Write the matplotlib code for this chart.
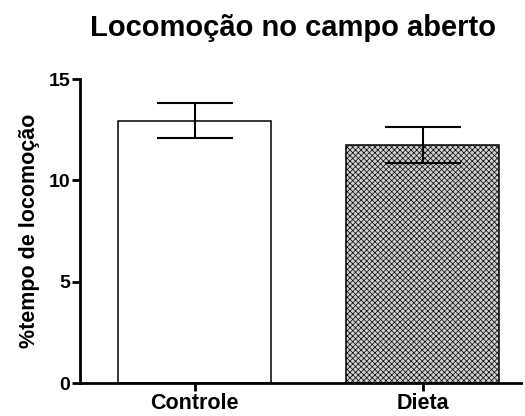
import matplotlib
matplotlib.use("Agg")
import matplotlib.pyplot as plt

categories = ["Controle", "Dieta"]
means = [12.95, 11.74]
errors = [0.85, 0.87]
yticks = [0, 5, 10, 15]

plt.rcParams['font.family'] = ['Liberation Sans', 'DejaVu Sans']
plt.rcParams['hatch.linewidth'] = 0.5
plt.rcParams['hatch.color'] = '#8a8a8a'

fig = plt.figure(figsize=(5.25, 4.16), dpi=100)
ax = fig.add_axes([0.152, 0.0793, 0.840, 0.7307])

x = list(range(len(categories)))
faces = ['white', '#cfcfcf']
hatches = [None, 'xxxxxx']
for xi, m, e, fc, h in zip(x, means, errors, faces, hatches):
    ax.bar(xi, m, width=0.67, color=fc, edgecolor='black', linewidth=1.1,
           hatch=h, zorder=2)
    ax.errorbar(xi, m, yerr=e, fmt='none', ecolor='black', elinewidth=1.5,
                capsize=27.4, capthick=1.5, zorder=3)

ax.set_xlim(-0.504, 1.43)
ax.set_ylim(0, 15)
ax.set_yticks(yticks)
ax.set_yticklabels([str(t) for t in yticks], fontsize=14, fontweight='bold')
ax.set_xticks(x)
ax.set_xticklabels(categories, fontsize=15.5, fontweight='bold')
ax.set_ylabel('%tempo de locomoção', fontsize=15.5, fontweight='bold', labelpad=6)
fig.text(0.559, 0.913, 'Locomoção no campo aberto', fontsize=21,
         fontweight='bold', ha='center', va='baseline')

for s in ['top', 'right']:
    ax.spines[s].set_visible(False)
for s in ['left', 'bottom']:
    ax.spines[s].set_linewidth(2)
ax.tick_params(axis='both', width=2, length=6, direction='out', pad=1)

fig.savefig('out.png', dpi=100)
